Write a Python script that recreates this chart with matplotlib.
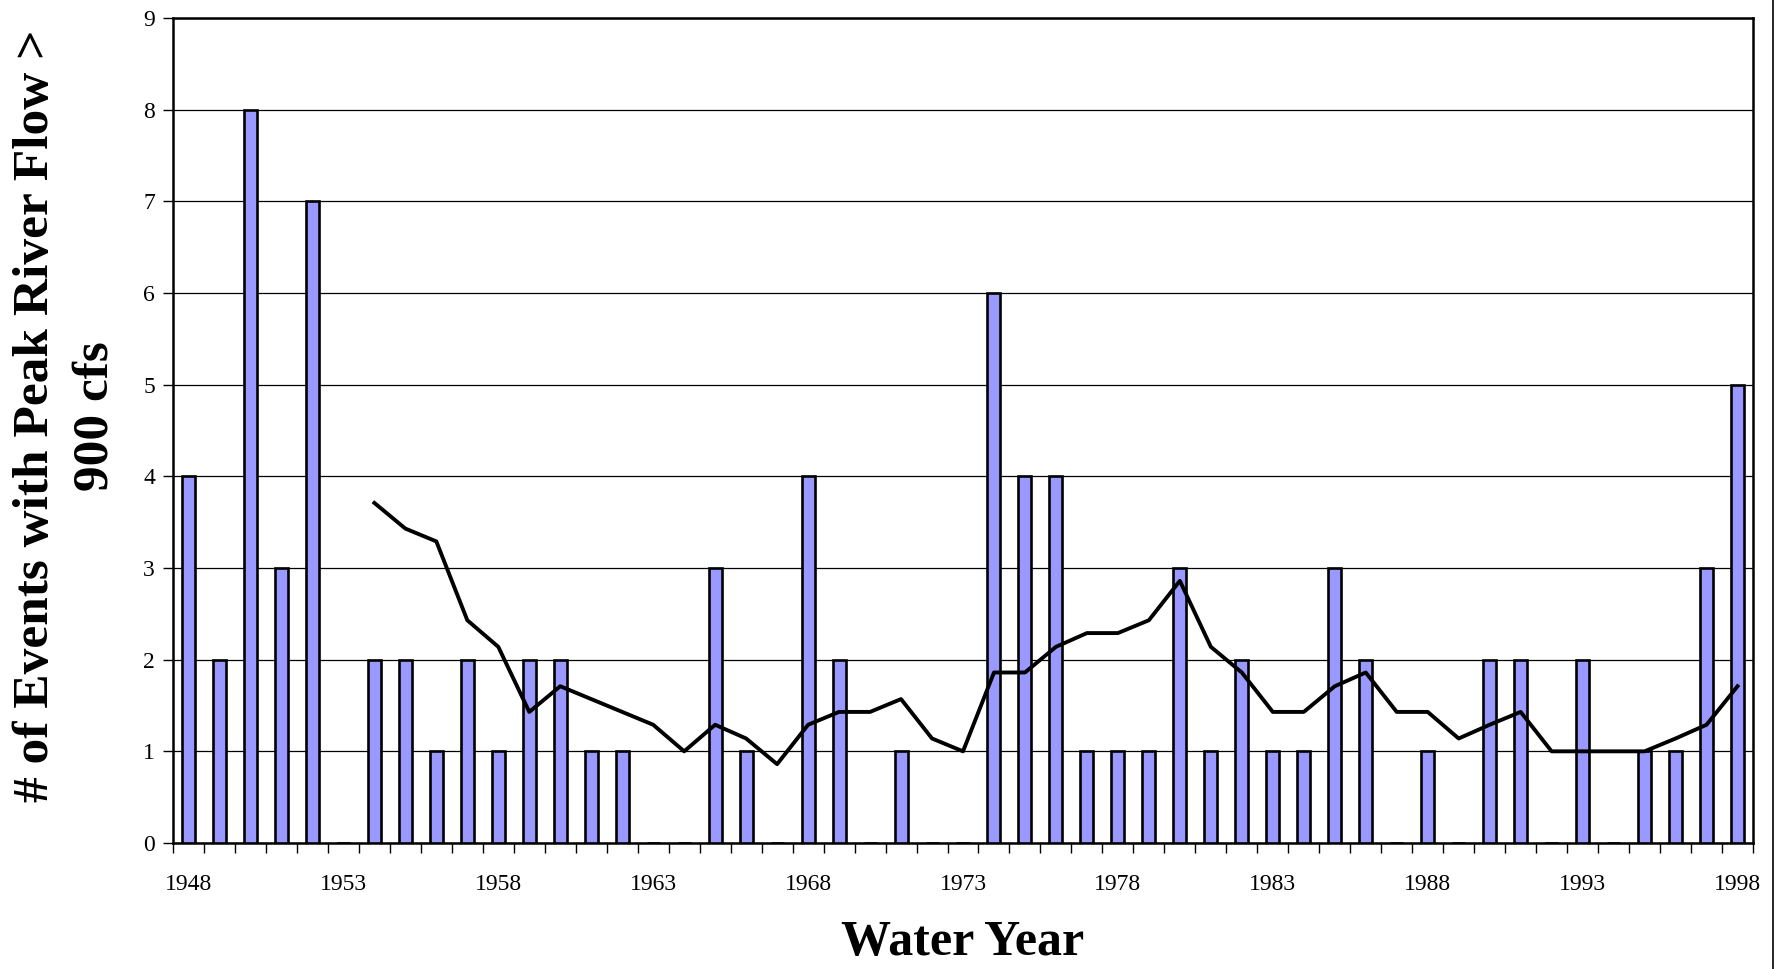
import numpy as np
from matplotlib import pyplot as plt
from matplotlib.lines import Line2D

plt.rcParams['font.family'] = ['Liberation Serif', 'DejaVu Serif']

years = list(range(1948, 1999))
events = [4, 2, 8, 3, 7, 0, 2, 2, 1, 2, 1, 2, 2, 1, 1, 0, 0, 3, 1, 0,
          4, 2, 0, 1, 0, 0, 6, 4, 4, 1, 1, 1, 3, 1, 2, 1, 1, 3, 2, 0,
          1, 0, 2, 2, 0, 2, 0, 1, 1, 3, 5]
# 7-yr running average (starts 1954)
avg_years = list(range(1954, 1999))
avg_vals = [3.71, 3.43, 3.29, 2.43, 2.14, 1.43, 1.71, 1.57, 1.43, 1.29,
            1.0, 1.29, 1.14, 0.86, 1.29, 1.43, 1.43, 1.57, 1.14, 1.0,
            1.86, 1.86, 2.14, 2.29, 2.29, 2.43, 2.86, 2.14, 1.86, 1.43,
            1.43, 1.71, 1.86, 1.43, 1.43, 1.14, 1.29, 1.43, 1.0, 1.0,
            1.0, 1.0, 1.14, 1.29, 1.71]
label_years = [1948, 1953, 1958, 1963, 1968, 1973, 1978, 1983, 1988, 1993, 1998]

fig = plt.figure(figsize=(17.81, 9.69), dpi=100)
ax = fig.add_axes([173/1781, 1 - 843/969, (1753-173)/1781, (843-18)/969])

x = np.arange(len(years))
ax.bar(x, events, width=0.42, color='#9999ff', edgecolor='black', linewidth=1.9, zorder=3)
ax_x = [years.index(y) for y in avg_years]
ax.plot(ax_x, avg_vals, color='black', lw=2.8, zorder=4)

ax.set_xlim(-0.5, len(years) - 0.5)
ax.set_ylim(0, 9)
ax.set_yticks(range(10))
ax.yaxis.grid(True, color='black', lw=0.9, zorder=0)

ax.set_xticks([years.index(y) for y in label_years])
ax.set_xticklabels([str(y) for y in label_years])
ax.set_xticks(np.arange(len(years) + 1) - 0.5, minor=True)
ax.tick_params(axis='x', which='major', length=0, pad=22, labelsize=17)
ax.tick_params(axis='x', which='minor', length=7, width=1, direction='out')
ax.tick_params(axis='y', length=7, width=1, direction='out', labelsize=17, pad=6)

for s in ax.spines.values():
    s.set_linewidth(1.8)

ax.set_xlabel('Water Year', fontsize=36, fontweight='bold', labelpad=18)
fig.text(66/1781, 1 - 416/969, '# of Events with Peak River Flow >\n900 cfs',
         rotation=90, ha='center', va='center', multialignment='center',
         fontsize=37, fontweight='bold', linespacing=1.4)

fig.add_artist(Line2D([1773/1781, 1773/1781], [0, 1], color='black', lw=1.2))

fig.savefig('out.png', dpi=100)
